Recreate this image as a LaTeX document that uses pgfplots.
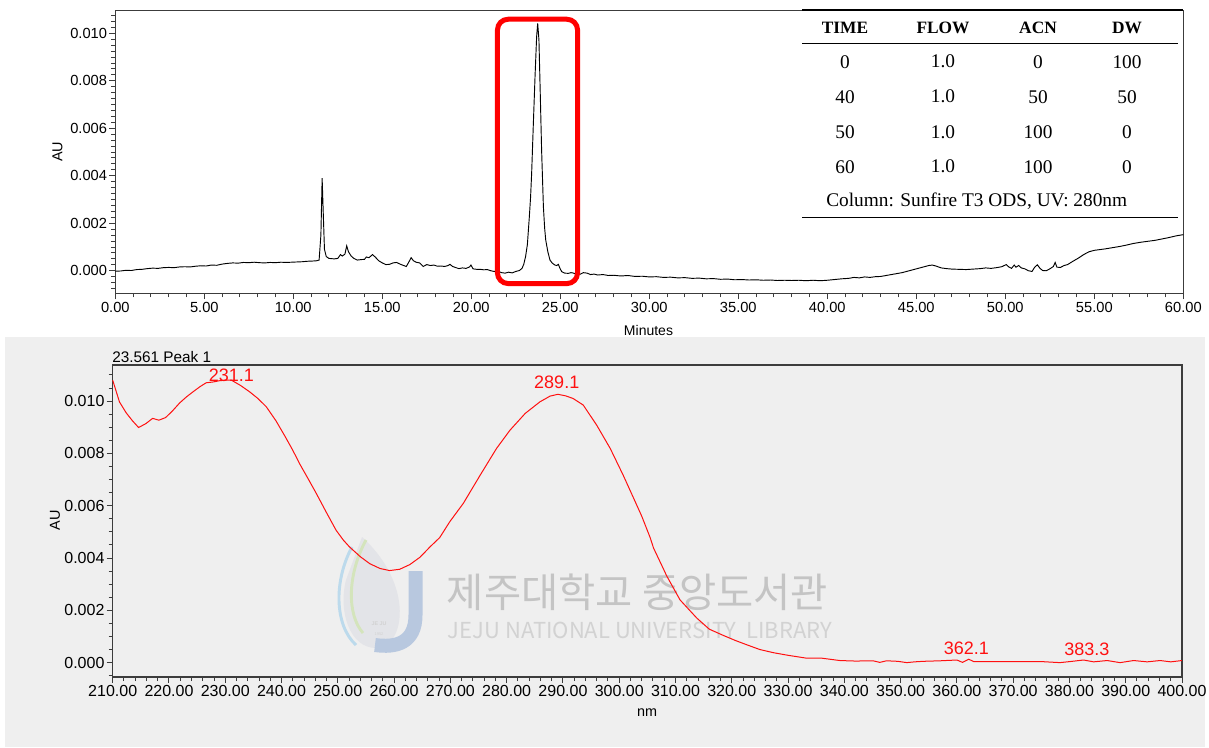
\documentclass[border=0pt]{standalone}
\usepackage{fontspec}
\setmainfont{Liberation Sans}
\newfontfamily\serif{Liberation Serif}
\newfontfamily\kr{Noto Sans CJK KR}
\usepackage{graphicx}
\usepackage{pgfplots}
\pgfplotsset{compat=1.18}
\definecolor{bg}{HTML}{EFEFEF}
\definecolor{axc}{HTML}{3C3C3C}
\definecolor{wmtext}{HTML}{C4C4C4}
\definecolor{wmtext2}{HTML}{D2D2D2}
\definecolor{wmJ}{HTML}{B8C8DF}
\definecolor{wmblue}{HTML}{BCDAEC}
\definecolor{wmgreen}{HTML}{D4E4BC}
\definecolor{wmgray}{HTML}{E3E4E8}
\definecolor{specred}{HTML}{FF1010}
\pgfplotsset{
  common/.style={
    scale only axis,
    axis line style={draw=axc, line width=1pt},
    tick style={draw=axc, line width=0.75pt},
    major tick length=4.5pt, minor tick length=3pt,
    tick align=outside, tick pos=left,
    scaled ticks=false,
    clip=false,
  }
}
\begin{document}
\begin{tikzpicture}
\path[use as bounding box] (0,0) rectangle (906.75pt,-560.25pt);
\begin{scope}[x=0.75pt,y=-0.75pt]
\fill[bg] (5,337) rectangle (1205,747);
% watermark logo (approximate)
\fill[wmgray] (362,537) .. controls (415,585) and (405,648) .. (376,648) .. controls (350,648) and (338,612) .. (346,580) -- cycle;
\draw[wmblue, line width=2.2pt] (352,547) .. controls (334,580) and (334,625) .. (356,645);
\draw[wmgreen, line width=2.2pt] (366,540) .. controls (347,575) and (347,615) .. (363,633);
\draw[wmJ, line width=10.5pt] (415.5,571) -- (415.5,615) .. controls (415.5,643) and (396,648) .. (375,645);
\node[wmtext2, font=\fontsize{4pt}{5pt}\selectfont\bfseries] at (379,624) {JE JU};
\node[wmtext2, font=\fontsize{3pt}{4pt}\selectfont] at (379,634) {1952};
\node[wmtext, inner sep=0] at (637.5,592) {\resizebox{285.75pt}{!}{\kr 제주대학교 중앙도서관}};
\node[wmtext2, inner sep=0] at (640,630) {\resizebox{288pt}{!}{\kr JEJU NATIONAL UNIVERSITY\ \ LIBRARY}};
\end{scope}

% ---------------- top chromatogram ----------------
\begin{axis}[common,
  at={(86.475pt,-219.975pt)}, anchor=south west,
  width=801pt, height=212.25pt,
  xmin=0, xmax=60, ymin=-0.00095, ymax=0.01097,
  xtick={0,5,...,60},
  xticklabels={0.00,5.00,10.00,15.00,20.00,25.00,30.00,35.00,40.00,45.00,50.00,55.00,60.00},
  minor xtick={0,1,...,60},
  ytick={0,0.002,0.004,0.006,0.008,0.010},
  yticklabels={0.000,0.002,0.004,0.006,0.008,0.010},
  minor ytick={-0.00075,-0.0005,...,0.01075},
  ticklabel style={font=\fontsize{11pt}{13pt}\selectfont},
  yticklabel style={inner sep=1.5pt},
  xticklabel style={inner sep=2pt},
]
\addplot[black, line width=0.7pt, sharp plot] coordinates {
(0.0,-0.00002) (0.3,-0.00001) (0.6,0.00002) (0.9,0.00001) (1.2,0.00005) (1.5,0.00006)
(1.8,0.00009) (2.1,0.00011) (2.4,0.0001) (2.7,0.00013) (3.0,0.00014) (3.3,0.00013)
(3.6,0.00016) (3.9,0.00017) (4.2,0.00016) (4.5,0.00019) (4.8,0.00021) (5.1,0.0002)
(5.4,0.00024) (5.7,0.00023) (6.0,0.00028) (6.3,0.00031) (6.6,0.00033) (6.9,0.00032)
(7.2,0.00035) (7.5,0.00034) (7.8,0.00036) (8.1,0.00034) (8.4,0.00033) (8.7,0.00035)
(9.0,0.00034) (9.3,0.00036) (9.6,0.00035) (9.9,0.00036) (10.2,0.00037) (10.5,0.00038)
(10.8,0.0004) (11.1,0.00041) (11.3,0.00042) (11.45,0.00045) (11.55,0.0015) (11.62,0.0039)
(11.68,0.0025) (11.75,0.0009) (11.85,0.0006) (12.0,0.00052) (12.3,0.0005) (12.5,0.00052)
(12.65,0.00068) (12.75,0.00062) (12.9,0.0007) (13.0,0.00105) (13.1,0.0008) (13.25,0.00062)
(13.4,0.00052) (13.6,0.00045) (13.8,0.00047) (14.0,0.00048) (14.1,0.00058) (14.25,0.00055)
(14.45,0.00068) (14.6,0.00058) (14.8,0.00042) (15.0,0.00033) (15.2,0.00026) (15.4,0.00027)
(15.6,0.00033) (15.8,0.00035) (16.0,0.00028) (16.2,0.00022) (16.35,0.00018) (16.5,0.00038)
(16.62,0.00055) (16.75,0.00042) (16.9,0.00036) (17.1,0.00033) (17.3,0.00018) (17.5,0.00026)
(17.7,0.00022) (17.9,0.00024) (18.1,0.00019) (18.3,0.0002) (18.5,0.00018) (18.7,0.00022)
(18.8,0.00027) (18.95,0.00018) (19.1,0.00014) (19.3,0.00009) (19.5,0.00012) (19.7,0.0001)
(19.9,0.00016) (19.98,0.00024) (20.1,0.00008) (20.3,0.00006) (20.5,0.00006) (20.7,0.00004)
(20.9,0.00005) (21.1,0.0) (21.3,-0.00003) (21.5,-0.00002) (21.7,-0.00008) (21.9,-0.0001)
(22.1,-0.00006) (22.3,-0.00009) (22.5,-0.00003) (22.7,0.00001) (22.85,0.0001) (22.95,0.00028)
(23.05,0.0006) (23.15,0.0011) (23.26,0.00227) (23.33,0.0031) (23.39,0.0041) (23.48,0.00607)
(23.58,0.00817) (23.67,0.00986) (23.73,0.01042) (23.8,0.00972) (23.86,0.0079) (23.95,0.00508)
(24.05,0.0027) (24.12,0.0018) (24.18,0.0013) (24.3,0.0008) (24.42,0.00045) (24.55,0.00032)
(24.7,0.00024) (24.8,0.00022) (24.89,0.00027) (24.97,0.00012) (25.08,-0.00004) (25.25,-0.0001)
(25.45,-0.00011) (25.6,-0.00008) (25.75,-0.0001) (25.9,-0.00015) (26.1,-0.00015) (26.3,-0.00008)
(26.5,-0.0001) (26.7,-0.00016) (26.9,-0.00014) (27.1,-0.00018) (27.4,-0.00016) (27.7,-0.0002)
(28.0,-0.00019) (28.4,-0.00022) (28.8,-0.0002) (29.2,-0.00024) (29.6,-0.00023) (30.0,-0.00026)
(30.4,-0.00025) (30.8,-0.00028) (31.2,-0.00027) (31.6,-0.0003) (32.0,-0.00029) (32.4,-0.00032)
(32.8,-0.00031) (33.2,-0.00034) (33.6,-0.00033) (34.0,-0.00036) (34.4,-0.00035) (34.8,-0.00038)
(35.2,-0.00037) (35.6,-0.00039) (36.0,-0.00038) (36.4,-0.0004) (36.8,-0.00039) (37.2,-0.00041)
(37.6,-0.0004) (38.0,-0.00041) (38.4,-0.0004) (38.8,-0.00042) (39.2,-0.0004) (39.6,-0.00042)
(40.0,-0.0004) (40.4,-0.00037) (40.8,-0.00034) (41.2,-0.00032) (41.5,-0.00028) (41.8,-0.0003)
(42.1,-0.00026) (42.4,-0.00028) (42.7,-0.00025) (43.0,-0.00024) (43.3,-0.0002) (43.6,-0.00016)
(43.9,-0.00012) (44.2,-0.00008) (44.5,-0.00002) (44.8,0.00004) (45.1,0.0001) (45.4,0.00016)
(45.7,0.00022) (45.9,0.00024) (46.1,0.0002) (46.4,0.00012) (46.7,0.00009) (47.0,0.00007)
(47.4,0.00006) (47.8,0.00005) (48.2,0.00007) (48.6,0.00009) (48.9,0.00012) (49.2,0.0001)
(49.5,0.00013) (49.8,0.00017) (50.05,0.00026) (50.2,0.00016) (50.35,0.0001) (50.5,0.00024)
(50.6,0.00015) (50.75,0.00022) (50.9,0.00012) (51.1,0.00008) (51.3,0.0) (51.5,-0.00003)
(51.65,0.00015) (51.8,0.00025) (51.95,0.0001) (52.1,0.00001) (52.3,0.0) (52.5,0.00008)
(52.7,0.00018) (52.8,0.00035) (52.9,0.00015) (53.1,0.00014) (53.3,0.00022) (53.5,0.00026)
(53.8,0.0004) (54.1,0.00053) (54.4,0.00068) (54.7,0.0008) (55.0,0.00086) (55.3,0.00089)
(55.6,0.00092) (56.0,0.00097) (56.4,0.00102) (56.8,0.00108) (57.2,0.00115) (57.6,0.0012)
(58.0,0.00124) (58.4,0.00128) (58.8,0.00134) (59.2,0.0014) (59.6,0.00147) (60.0,0.00152)
};
\draw[red, line width=3.75pt, rounded corners=8pt] (axis cs:21.47,0.010594) rectangle (axis cs:25.97,-0.00054);
\end{axis}

% ---------------- bottom spectrum ----------------
\begin{axis}[common,
  at={(84.525pt,-507.75pt)}, anchor=south west,
  width=801.975pt, height=234pt,
  xmin=210, xmax=400, ymin=-0.00055, ymax=0.01138,
  xtick={210,220,...,400},
  xticklabels={210.00,220.00,230.00,240.00,250.00,260.00,270.00,280.00,290.00,300.00,310.00,320.00,330.00,340.00,350.00,360.00,370.00,380.00,390.00,400.00},
  minor xtick={210,212,...,400},
  ytick={0,0.002,0.004,0.006,0.008,0.010},
  yticklabels={0.000,0.002,0.004,0.006,0.008,0.010},
  minor ytick={-0.0005,0,...,0.011},
  ticklabel style={font=\fontsize{12pt}{14pt}\selectfont},
  yticklabel style={inner sep=1.5pt},
  xticklabel style={inner sep=1.5pt},
]
\addplot[specred, line width=0.75pt, sharp plot] coordinates {
(210,0.0108) (211.2,0.00997) (212.4,0.00955) (213.5,0.00925) (214.6,0.00899) (215.9,0.00914)
(217.1,0.00934) (218.2,0.00927) (219.4,0.00937) (220.6,0.00962) (221.9,0.00993) (223.1,0.01016)
(224.3,0.01036) (225.5,0.01055) (226.6,0.0107) (227.8,0.01073) (229.0,0.01078) (230.0,0.0108)
(231.1,0.0108) (232.7,0.0106) (234.3,0.01036) (235.8,0.0101) (237.3,0.00978) (239.0,0.00925)
(240.6,0.00866) (242.0,0.00812) (243.2,0.00761) (244.7,0.00704) (246.2,0.00646) (248.0,0.00573)
(249.7,0.00506) (251.0,0.00468) (252.1,0.00442) (254.0,0.00405) (255.7,0.00378) (257.5,0.0036)
(259.2,0.00352) (261.0,0.00357) (262.8,0.00375) (264.6,0.00403) (266.4,0.00443) (268.1,0.00478)
(269.9,0.00539) (272.3,0.00609) (275.3,0.00717) (278.2,0.00819) (280.6,0.00889) (283.3,0.00953)
(285.9,0.00997) (287.7,0.01019) (289.1,0.01026) (290.5,0.0102) (291.8,0.0101) (293.6,0.00985)
(296.0,0.00908) (298.4,0.00819) (300.7,0.00717) (303.1,0.00603) (304.0,0.0056) (305.5,0.00478)
(306.1,0.00438) (307.8,0.00361) (308.4,0.00333) (310.8,0.0024) (313.8,0.0017) (316.0,0.00128)
(318.5,0.00104) (320.6,0.00085) (322.7,0.00068) (325.0,0.0005) (327.4,0.00038) (330.0,0.00028)
(333.3,0.00017) (336.0,0.00017) (339.2,0.00008) (342.0,0.00006) (345.1,0.00007) (346.3,0.00001)
(347.5,0.00007) (349.5,0.00005) (351.1,0.0) (352.5,0.00003) (354.0,0.00005) (357.0,0.00007)
(360.0,0.0001) (361.0,0.00001) (362.1,0.00013) (363.0,0.00004) (366,0.00004) (369,0.00004)
(372,0.00004) (375,0.00004) (378.3,0.0) (380.5,0.00005) (382.5,0.0001) (384.3,0.00003)
(386.7,0.00008) (389.0,0.0) (391.4,0.00008) (393.8,0.00003) (396.1,0.00008) (398.0,0.00003)
(400.0,0.00008)
};
\node[specred, inner sep=0, font=\fontsize{13.5pt}{15pt}\selectfont] at (axis cs:231.1,0.01099) {231.1};
\node[specred, inner sep=0, font=\fontsize{13.5pt}{15pt}\selectfont] at (axis cs:288.9,0.010726) {289.1};
\node[specred, inner sep=0, font=\fontsize{13.5pt}{15pt}\selectfont] at (axis cs:361.7,0.00055) {362.1};
\node[specred, inner sep=0, font=\fontsize{13.5pt}{15pt}\selectfont] at (axis cs:383.1,0.00052) {383.3};
\end{axis}

% ---------------- texts and table ----------------
\begin{scope}[x=0.75pt,y=-0.75pt]
\node[rotate=90, inner sep=0, font=\fontsize{10.8pt}{13pt}\selectfont] at (57.5,151.7) {AU};
\node[inner sep=0, font=\fontsize{10.5pt}{13pt}\selectfont] at (648.5,330.5) {Minutes};
\node[rotate=90, inner sep=0, font=\fontsize{10.8pt}{13pt}\selectfont] at (55,520) {AU};
\node[inner sep=0, font=\fontsize{10.8pt}{13pt}\selectfont] at (647,712.5) {nm};
\node[anchor=base west, inner sep=0, font=\fontsize{11.5pt}{14pt}\selectfont] at (112,362.7) {23.561 Peak 1};
% table
\draw[black, line width=1.3pt] (802,10.3) -- (1183,10.3);
\draw[black, line width=1.1pt] (802,43.3) -- (1178,43.3);
\draw[black, line width=1.1pt] (802,217.3) -- (1178,217.3);
\begin{scope}[every node/.style={inner sep=0, font=\serif\fontsize{13pt}{15pt}\selectfont\bfseries}]
\node at (845,27.5) {TIME};
\node at (943,27.5) {FLOW};
\node at (1038,27.5) {ACN};
\node at (1127,27.5) {DW};
\end{scope}
\begin{scope}[every node/.style={inner sep=0, font=\serif\fontsize{14.5pt}{16pt}\selectfont}]
\node at (845,61.7) {0};   \node at (943,61.7) {1.0};  \node at (1038,61.7) {0};   \node at (1127,61.7) {100};
\node at (845,96.7) {40};  \node at (943,96.7) {1.0};  \node at (1038,96.7) {50};  \node at (1127,96.7) {50};
\node at (845,132) {50};   \node at (943,132) {1.0};   \node at (1038,132) {100};  \node at (1127,132) {0};
\node at (845,166.7) {60}; \node at (943,166.7) {1.0}; \node at (1038,166.7) {100}; \node at (1127,166.7) {0};
\node at (976.7,201) {Column: Sunfire T3 ODS, UV: 280nm};
\end{scope}
\end{scope}
\end{tikzpicture}
\end{document}
